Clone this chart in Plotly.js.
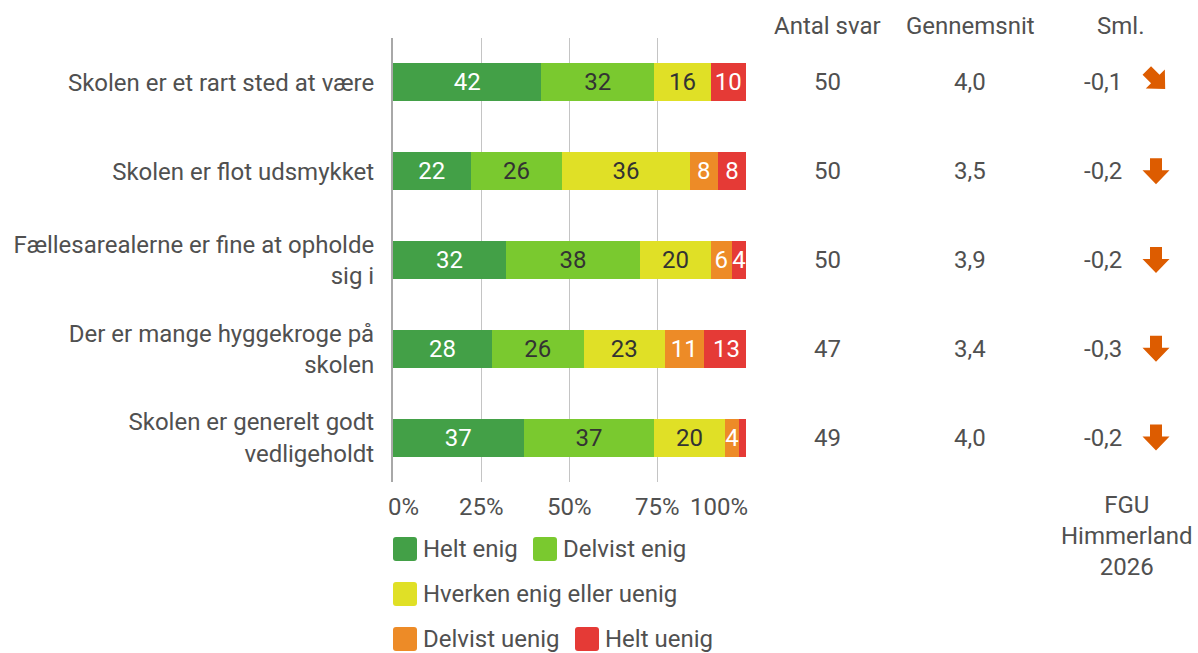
<!DOCTYPE html>
<html>
<head>
<meta charset="utf-8">
<script src="https://cdn.plot.ly/plotly-3.0.1.min.js"></script>
<style>
html,body{margin:0;padding:0;background:#fff;}
#chart{width:1198px;height:653px;}
</style>
</head>
<body>
<div id="chart"></div>
<script>
// ---------- DATA ----------
const categories = [
  "Skolen er et rart sted at være",
  "Skolen er flot udsmykket",
  "Fællesarealerne er fine at opholde sig i",
  "Der er mange hyggekroge på skolen",
  "Skolen er generelt godt vedligeholdt"
];
const categoryTickText = [
  "Skolen er et rart sted at være",
  "Skolen er flot udsmykket",
  "Fællesarealerne er fine at opholde<br>sig i",
  "Der er mange hyggekroge på<br>skolen",
  "Skolen er generelt godt<br>vedligeholdt"
];
const seriesNames = ["Helt enig", "Delvist enig", "Hverken enig eller uenig", "Delvist uenig", "Helt uenig"];
const heltEnig      = [42, 22, 32, 28, 37];
const delvistEnig   = [32, 26, 38, 26, 37];
const hverken       = [16, 36, 20, 23, 20];
const delvistUenig  = [0, 8, 6, 11, 4];
const heltUenig     = [10, 8, 4, 13, 2];
const antalSvar     = ["50", "50", "50", "47", "49"];
const gennemsnit    = ["4,0", "3,5", "3,9", "3,4", "4,0"];
const sml           = ["-0,1", "-0,2", "-0,2", "-0,3", "-0,2"];
const smlDirection  = ["diag", "down", "down", "down", "down"];
const xTickVals     = [0, 25, 50, 75, 100];
const xTickText     = ["0%", "25%", "50%", "75%", "100%"];
const comparisonLabel = "FGU<br>Himmerland<br>2026";

// ---------- STYLE ----------
const colors = ["#43a047", "#7ac92f", "#e0e026", "#ed8b27", "#e53a36"];
const textColors = ["#ffffff", "#333333", "#333333", "#ffffff", "#ffffff"];
const arrowColor = "#dd5c00";
const txtColor = "#505050";
const FONT = "Roboto, 'Noto Sans', sans-serif";
const FS = 24;

const W = 1198, H = 653;
const M = {l: 393, r: 452, t: 38, b: 171};
const PW = W - M.l - M.r, PH = H - M.t - M.b;
const pxX = px => (px - M.l) / PW;
const pxY = py => (H - M.b - py) / PH;

const seriesValues = [heltEnig, delvistEnig, hverken, delvistUenig, heltUenig];

const traces = seriesValues.map((vals, i) => ({
  type: "bar",
  orientation: "h",
  name: seriesNames[i],
  y: categories,
  x: vals,
  text: vals.map(v => v >= 4 ? String(v) : ""),
  textposition: "inside",
  insidetextanchor: "middle",
  textangle: 0,
  constraintext: "none",
  textfont: {family: FONT, size: FS, color: textColors[i]},
  marker: {color: colors[i], line: {width: 0}},
  hoverinfo: "skip",
  showlegend: false
}));

const annotations = [];
const shapes = [];

// x tick labels (kept inside plot edges)
xTickVals.forEach((v, i) => {
  const last = xTickVals.length - 1;
  annotations.push({
    xref: "x", yref: "paper", x: v, y: pxY(507),
    xanchor: i === 0 ? "left" : (i === last ? "right" : "center"),
    xshift: i === 0 ? -7 : (i === last ? 4 : 0),
    yanchor: "middle", showarrow: false, text: xTickText[i],
    font: {family: FONT, size: FS, color: txtColor}
  });
});

// column headers
const colX = {antal: pxX(827), gen: pxX(970), smlHead: pxX(1120), smlVal: pxX(1103), arrow: pxX(1156)};
[["Antal svar", colX.antal], ["Gennemsnit", colX.gen], ["Sml.", colX.smlHead]].forEach(([t, x]) => {
  annotations.push({xref: "paper", yref: "paper", x: x, y: pxY(26), xanchor: "center", yanchor: "middle",
    showarrow: false, text: t, font: {family: FONT, size: FS, color: txtColor}});
});

// column values
categories.forEach((c, i) => {
  annotations.push({xref: "paper", yref: "y", x: colX.antal, y: i, xanchor: "center", yanchor: "middle",
    showarrow: false, text: antalSvar[i], font: {family: FONT, size: FS, color: txtColor}});
  annotations.push({xref: "paper", yref: "y", x: colX.gen, y: i, xanchor: "center", yanchor: "middle",
    showarrow: false, text: gennemsnit[i], font: {family: FONT, size: FS, color: txtColor}});
  annotations.push({xref: "paper", yref: "y", x: colX.smlVal, y: i, xanchor: "center", yanchor: "middle",
    showarrow: false, text: sml[i], font: {family: FONT, size: FS, color: txtColor}});
});

// arrows
const baseArrow = [[-6, 13], [6, 13], [6, 1], [13.5, 1], [0, -13], [-13.5, 1], [-6, 1]];
function arrowPath(dir) {
  let pts = baseArrow;
  if (dir === "diag") {
    const a = Math.PI / 4, c = Math.cos(a), s = Math.sin(a);
    pts = pts.map(([x, y]) => [x * c - y * s, x * s + y * c]);
  }
  return "M " + pts.map(p => p[0].toFixed(2) + " " + p[1].toFixed(2)).join(" L ") + " Z";
}
categories.forEach((c, i) => {
  shapes.push({
    type: "path", xref: "paper", yref: "y",
    xsizemode: "pixel", ysizemode: "pixel",
    xanchor: colX.arrow, yanchor: i + (smlDirection[i] === "diag" ? -0.03 : 0),
    path: arrowPath(smlDirection[i]),
    fillcolor: arrowColor, line: {width: 0}
  });
});

// comparison label
annotations.push({xref: "paper", yref: "paper", x: pxX(1127), y: pxY(536), xanchor: "center", yanchor: "middle",
  showarrow: false, text: comparisonLabel, font: {family: FONT, size: FS, color: txtColor}});

// custom legend
const legendPos = [[405, 549], [545, 549], [405, 594], [405, 639], [587, 639]];
function roundRect(w, h, r) {
  const x0 = -w / 2, x1 = w / 2, y0 = -h / 2, y1 = h / 2;
  return `M ${x0 + r} ${y0} L ${x1 - r} ${y0} Q ${x1} ${y0} ${x1} ${y0 + r} L ${x1} ${y1 - r} Q ${x1} ${y1} ${x1 - r} ${y1} L ${x0 + r} ${y1} Q ${x0} ${y1} ${x0} ${y1 - r} L ${x0} ${y0 + r} Q ${x0} ${y0} ${x0 + r} ${y0} Z`;
}
seriesNames.forEach((n, i) => {
  const [cx, cy] = legendPos[i];
  shapes.push({type: "path", xref: "paper", yref: "paper", xsizemode: "pixel", ysizemode: "pixel",
    xanchor: pxX(cx), yanchor: pxY(cy), path: roundRect(24, 24, 3),
    fillcolor: colors[i], line: {width: 0}});
  annotations.push({xref: "paper", yref: "paper", x: pxX(cx + 16), y: pxY(cy), xanchor: "left", yanchor: "middle",
    showarrow: false, text: n, font: {family: FONT, size: FS, color: txtColor}});
});

const layout = {
  width: W, height: H,
  margin: M,
  paper_bgcolor: "#ffffff", plot_bgcolor: "#ffffff",
  barmode: "stack",
  bargap: 0.57,
  showlegend: false,
  font: {family: FONT, size: FS, color: txtColor},
  xaxis: {
    range: [0, 100], tickvals: xTickVals, showticklabels: false,
    showgrid: true, gridcolor: "#c4c4c4", gridwidth: 1,
    zeroline: false, showline: false, fixedrange: true
  },
  yaxis: {
    type: "category", autorange: "reversed",
    tickvals: categories, ticktext: categoryTickText,
    ticks: "outside", ticklen: 12, tickcolor: "rgba(0,0,0,0)",
    tickfont: {family: FONT, size: FS, color: txtColor},
    showgrid: false, zeroline: false,
    showline: true, linecolor: "#a8a8a8", linewidth: 2, fixedrange: true
  },
  annotations: annotations,
  shapes: shapes
};

Plotly.newPlot("chart", traces, layout, {staticPlot: true, displayModeBar: false});
</script>
</body>
</html>
